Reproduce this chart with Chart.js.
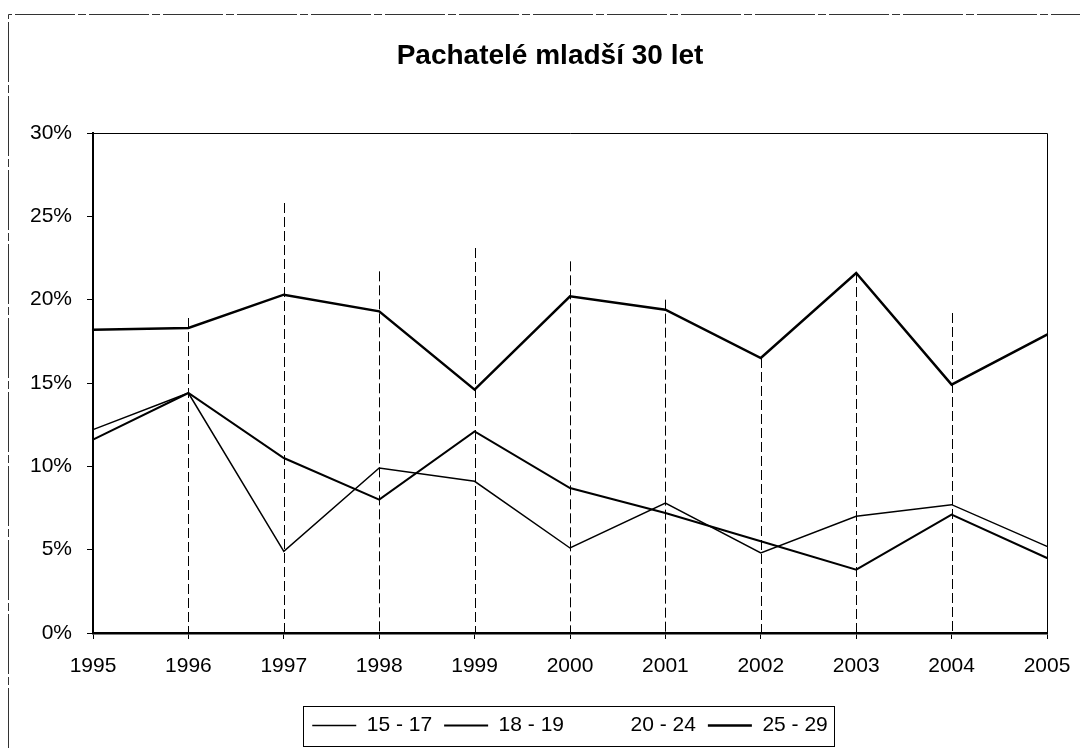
<!DOCTYPE html>
<html>
<head>
<meta charset="utf-8">
<script src="https://cdn.jsdelivr.net/npm/chart.js@4.4.0/dist/chart.umd.min.js"></script>
<style>
  html, body { margin: 0; padding: 0; background: #fff; }
  #wrap { width: 1080px; height: 748px; }
</style>
</head>
<body>
<div id="wrap"><canvas id="myChart" width="1080" height="748"></canvas></div>
<script>
const years = ['1995', '1996', '1997', '1998', '1999', '2000', '2001', '2002', '2003', '2004', '2005'];
const age15_17 = [12.2, 14.4, 4.9, 9.9, 9.1, 5.1, 7.8, 4.8, 7.0, 7.7, 5.2];
const age18_19 = [11.6, 14.4, 10.5, 8.0, 12.1, 8.7, 7.2, 5.5, 3.8, 7.1, 4.5];
const age20_24 = [18.6, 18.9, 25.8, 21.7, 23.1, 22.3, 20.0, 16.3, 21.4, 19.2, 17.6];
const age25_29 = [18.2, 18.3, 20.3, 19.3, 14.6, 20.2, 19.4, 16.5, 21.6, 14.9, 17.9];
const yTicks = [0, 5, 10, 15, 20, 25, 30];

const FONT = "'Liberation Sans', Arial, sans-serif";

// dashed drop lines from the highest point of each year down to the axis
const dropLines = {
    id: 'dropLines',
    beforeDatasetsDraw(chart) {
        const ctx = chart.ctx;
        const x = chart.scales.x, y = chart.scales.y;
        const bottom = chart.chartArea.bottom;
        ctx.save();
        ctx.strokeStyle = '#000';
        ctx.lineWidth = 1;
        ctx.setLineDash([10, 4]);
        years.forEach(function(yr, i) {
            let top = 0;
            chart.data.datasets.forEach(function(ds) { top = Math.max(top, ds.data[i]); });
            const px = Math.round(x.getPixelForValue(i)) + 0.5;
            ctx.beginPath();
            ctx.moveTo(px, y.getPixelForValue(top));
            ctx.lineTo(px, bottom);
            ctx.stroke();
        });
        ctx.restore();
    }
};

// title sits a bit left of the plot centre, like the original
const titleShift = {
    id: 'titleShift',
    afterLayout(chart) {
        if (chart.titleBlock) {
            chart.titleBlock.left = 53;
            chart.titleBlock.right = chart.chartArea.right;
        }
    }
};

// frame, plot border and legend box
const frames = {
    id: 'frames',
    beforeDraw(chart) {
        const ctx = chart.ctx;
        ctx.save();
        ctx.strokeStyle = '#333';
        ctx.lineWidth = 1;
        ctx.setLineDash([60, 3, 8, 3]);
        ctx.beginPath();
        ctx.moveTo(8.5, 748);
        ctx.lineTo(8.5, 14.5);
        ctx.lineTo(1080, 14.5);
        ctx.stroke();
        ctx.restore();
    },
    afterDraw(chart) {
        const ctx = chart.ctx;
        const a = chart.chartArea;
        ctx.save();
        ctx.strokeStyle = '#000';
        ctx.lineWidth = 1;
        ctx.beginPath();
        ctx.moveTo(a.left, a.top + 0.5);
        ctx.lineTo(a.right + 0.5, a.top + 0.5);
        ctx.lineTo(a.right + 0.5, a.bottom);
        ctx.stroke();

        const hb = chart.legend.legendHitBoxes;
        if (hb && hb.length) {
            let l = Infinity, r = -Infinity;
            hb.forEach(function(b) { l = Math.min(l, b.left); r = Math.max(r, b.left + b.width); });
            const t = hb[0].top - 9, h = hb[0].height + 19;
            ctx.strokeRect(Math.round(l - 9) + 0.5, Math.round(t) + 0.5, Math.round(r - l + 15), Math.round(h));
        }
        ctx.restore();
    }
};

new Chart(document.getElementById('myChart'), {
    type: 'line',
    data: {
        labels: years,
        datasets: [
            { label: '15 - 17', data: age15_17, borderColor: '#000', borderWidth: 1.5 },
            { label: '18 - 19', data: age18_19, borderColor: '#000', borderWidth: 2 },
            { label: '20 - 24', data: age20_24, borderColor: 'rgba(0,0,0,0)', borderWidth: 2 },
            { label: '25 - 29', data: age25_29, borderColor: '#000', borderWidth: 2.5 }
        ]
    },
    options: {
        responsive: false,
        animation: false,
        devicePixelRatio: 1,
        layout: { padding: { left: 0, right: 33, top: 0, bottom: 2 } },
        elements: {
            point: { radius: 0, hoverRadius: 0 },
            line: { tension: 0, borderCapStyle: 'round', borderJoinStyle: 'miter' }
        },
        plugins: {
            title: {
                display: true,
                fullSize: false,
                text: 'Pachatelé mladší 30 let',
                color: '#000',
                font: { family: FONT, size: 28, weight: 'bold' },
                padding: { top: 39, bottom: 60.4 }
            },
            legend: {
                position: 'bottom',
                fullSize: false,
                labels: {
                    color: '#000',
                    font: { family: FONT, size: 21 },
                    usePointStyle: true,
                    pointStyle: 'line',
                    pointStyleWidth: 44,
                    padding: 12
                }
            },
            tooltip: { enabled: false }
        },
        scales: {
            x: {
                offset: false,
                grid: { display: true, drawOnChartArea: false, drawTicks: true, tickLength: 6, color: '#000' },
                border: { display: true, color: '#000', width: 2.5 },
                ticks: { color: '#000', font: { family: FONT, size: 21 }, padding: 15, maxRotation: 0, autoSkip: false },
                afterFit(scale) {
                    scale.height = 70;
                    scale.paddingLeft = 0;
                    scale.paddingRight = 0;
                }
            },
            y: {
                min: 0,
                max: 30,
                afterBuildTicks(scale) { scale.ticks = yTicks.map(function(v) { return { value: v }; }); },
                grid: { display: true, drawOnChartArea: false, drawTicks: true, tickLength: 6, color: '#000' },
                border: { display: true, color: '#000', width: 2 },
                ticks: { color: '#000', font: { family: FONT, size: 21 }, padding: 15, callback: function(v) { return v + '%'; } },
                afterFit(scale) { scale.width = 93; }
            }
        }
    },
    plugins: [dropLines, titleShift, frames]
});
</script>
</body>
</html>
